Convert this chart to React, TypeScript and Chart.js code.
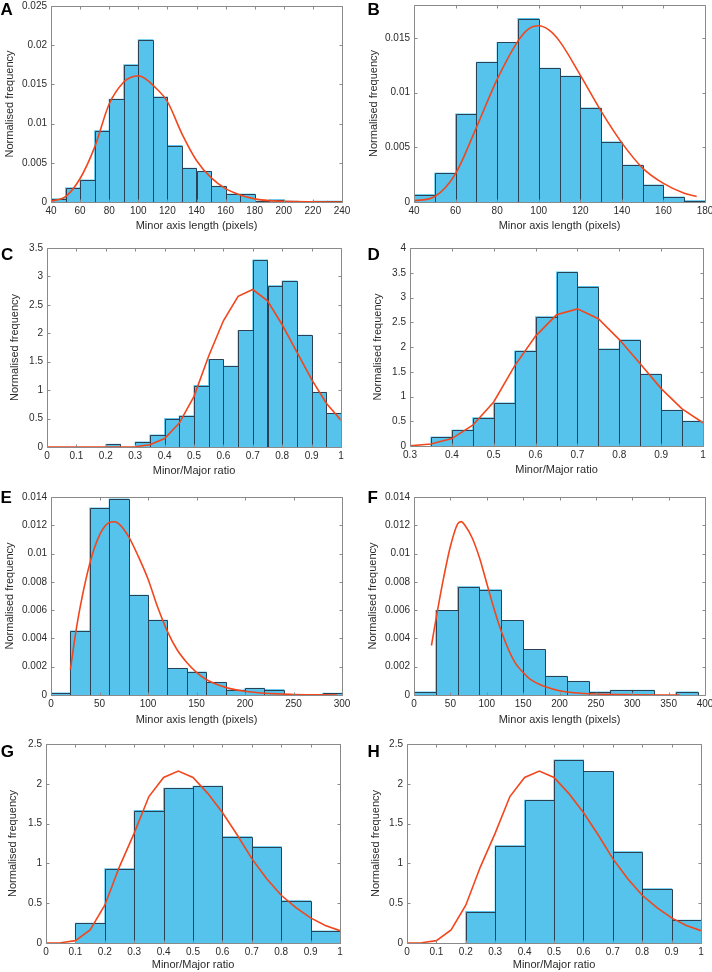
import React, { useEffect, useRef } from "react";
import { Chart, registerables } from "chart.js";

Chart.register(...registerables);

const FONT = "'Liberation Sans', Arial, Helvetica, sans-serif";
Chart.defaults.font.family = FONT;

const TEXT = "#2b2b2b";
const BOX = "#8a8a8a";
const BAR_FILL = "#55c3eb";
const BAR_EDGE = "#2a4254";
const CURVE = "#f2461d";

// ---------- Panel A ----------
const A_BIN_EDGES = [40, 50, 60, 70, 80, 90, 100, 110, 120, 130, 140, 150, 160, 170, 180, 190, 200, 210, 220, 230];
const A_FREQ = [0.0004, 0.0018, 0.0028, 0.0091, 0.0131, 0.0175, 0.0207, 0.0134, 0.0072, 0.0043, 0.0039, 0.002, 0.001, 0.001, 0.0001, 0.0003, 0.0001, 0, 0.0001, 0.0001];
const A_CURVE_X = [40, 50, 60, 70, 80, 90, 95, 100, 105, 110, 120, 130, 140, 150, 160, 170, 180, 190, 200, 220, 240];
const A_CURVE_Y = [0.0001, 0.0007, 0.003, 0.007, 0.0125, 0.0153, 0.0159, 0.0161, 0.0157, 0.0149, 0.0128, 0.0087, 0.0053, 0.0031, 0.0017, 0.0009, 0.0004, 0.00017, 0.00008, 0.00002, 0];
const A_X_TICKS = [40, 60, 80, 100, 120, 140, 160, 180, 200, 220, 240];
const A_Y_TICKS = [0, 0.005, 0.01, 0.015, 0.02, 0.025];

// ---------- Panel B ----------
const B_BIN_EDGES = [40, 50, 60, 70, 80, 90, 100, 110, 120, 130, 140, 150, 160, 170];
const B_FREQ = [0.00067, 0.00264, 0.00803, 0.01276, 0.01458, 0.01676, 0.01221, 0.01148, 0.00858, 0.00548, 0.00336, 0.00155, 0.00045, 0.00012];
const B_CURVE_X = [40, 50, 60, 70, 80, 90, 95, 100, 105, 110, 120, 130, 140, 150, 160, 170, 176];
const B_CURVE_Y = [0.0001, 0.0005, 0.0026, 0.0068, 0.0112, 0.0147, 0.0158, 0.0161, 0.0157, 0.0147, 0.0116, 0.0083, 0.0054, 0.0031, 0.0017, 0.0008, 0.0005];
const B_X_TICKS = [40, 60, 80, 100, 120, 140, 160, 180];
const B_Y_TICKS = [0, 0.005, 0.01, 0.015];

// ---------- Panel C ----------
const C_BIN_EDGES = [0, 0.05, 0.1, 0.15, 0.2, 0.25, 0.3, 0.35, 0.4, 0.45, 0.5, 0.55, 0.6, 0.65, 0.7, 0.75, 0.8, 0.85, 0.9, 0.95];
const C_FREQ = [0, 0, 0, 0, 0.047, 0, 0.088, 0.21, 0.5, 0.547, 1.08, 1.54, 1.42, 2.05, 3.29, 2.835, 2.92, 1.965, 0.96, 0.59];
const C_CURVE_X = [0, 0.05, 0.1, 0.15, 0.2, 0.25, 0.3, 0.35, 0.4, 0.45, 0.5, 0.55, 0.6, 0.65, 0.7, 0.75, 0.8, 0.85, 0.9, 0.95, 1];
const C_CURVE_Y = [0, 0, 0, 0, 0, 0.001, 0.005, 0.04, 0.15, 0.42, 0.89, 1.6, 2.22, 2.65, 2.77, 2.57, 2.15, 1.67, 1.19, 0.77, 0.47];
const C_X_TICKS = [0, 0.1, 0.2, 0.3, 0.4, 0.5, 0.6, 0.7, 0.8, 0.9, 1];
const C_Y_TICKS = [0, 0.5, 1, 1.5, 2, 2.5, 3, 3.5];

// ---------- Panel D ----------
const D_BIN_EDGES = [0.3, 0.35, 0.4, 0.45, 0.5, 0.55, 0.6, 0.65, 0.7, 0.75, 0.8, 0.85, 0.9, 0.95];
const D_FREQ = [0, 0.18, 0.32, 0.57, 0.87, 1.92, 2.61, 3.515, 3.22, 1.96, 2.14, 1.45, 0.72, 0.5];
const D_CURVE_X = [0.3, 0.35, 0.4, 0.45, 0.5, 0.55, 0.6, 0.65, 0.7, 0.75, 0.8, 0.85, 0.9, 0.95, 1];
const D_CURVE_Y = [0.005, 0.04, 0.15, 0.42, 0.89, 1.62, 2.22, 2.65, 2.77, 2.57, 2.15, 1.66, 1.16, 0.75, 0.47];
const D_X_TICKS = [0.3, 0.4, 0.5, 0.6, 0.7, 0.8, 0.9, 1];
const D_Y_TICKS = [0, 0.5, 1, 1.5, 2, 2.5, 3, 3.5, 4];

// ---------- Panel E ----------
const E_BIN_EDGES = [0, 20, 40, 60, 80, 100, 120, 140, 160, 180, 200, 220, 240, 260, 280];
const E_FREQ = [0.00014, 0.00452, 0.01322, 0.01386, 0.00706, 0.00529, 0.00188, 0.00162, 0.00089, 0.00035, 0.00047, 0.00038, 0, 0, 0.00012];
const E_CURVE_X = [20, 25, 30, 40, 50, 60, 65, 70, 80, 90, 100, 110, 120, 130, 140, 150, 160, 180, 200, 220, 250, 295];
const E_CURVE_Y = [0.0018, 0.0042, 0.0062, 0.0093, 0.0113, 0.0122, 0.01225, 0.0121, 0.0112, 0.0098, 0.0082, 0.0062, 0.0045, 0.0032, 0.0023, 0.0016, 0.0011, 0.00054, 0.00026, 0.00012, 0.00004, 0];
const E_X_TICKS = [0, 50, 100, 150, 200, 250, 300];
const E_Y_TICKS = [0, 0.002, 0.004, 0.006, 0.008, 0.01, 0.012, 0.014];

// ---------- Panel F ----------
const F_BIN_EDGES = [0, 30, 60, 90, 120, 150, 180, 210, 240, 270, 300, 330, 360];
const F_FREQ = [0.00021, 0.00598, 0.00765, 0.00744, 0.00527, 0.00322, 0.00132, 0.00096, 0.00021, 0.00033, 0.00033, 0, 0.00021];
const F_CURVE_X = [24, 30, 40, 50, 60, 65, 70, 80, 90, 100, 110, 120, 130, 140, 150, 160, 180, 200, 220, 250, 300, 365];
const F_CURVE_Y = [0.0035, 0.0053, 0.0081, 0.0105, 0.0121, 0.01226, 0.012, 0.0111, 0.0097, 0.0079, 0.0061, 0.0045, 0.0032, 0.0022, 0.0016, 0.0011, 0.0006, 0.0003, 0.00016, 0.00007, 0.00002, 0];
const F_X_TICKS = [0, 50, 100, 150, 200, 250, 300, 350, 400];
const F_Y_TICKS = [0, 0.002, 0.004, 0.006, 0.008, 0.01, 0.012, 0.014];

// ---------- Panel G ----------
const G_BIN_EDGES = [0, 0.1, 0.2, 0.3, 0.4, 0.5, 0.6, 0.7, 0.8, 0.9];
const G_FREQ = [0, 0.248, 0.933, 1.664, 1.945, 1.97, 1.336, 1.21, 0.53, 0.15];
const G_CURVE_X = [0, 0.05, 0.1, 0.15, 0.2, 0.25, 0.3, 0.35, 0.4, 0.45, 0.5, 0.55, 0.6, 0.65, 0.7, 0.75, 0.8, 0.85, 0.9, 0.95, 1];
const G_CURVE_Y = [0, 0.004, 0.03, 0.165, 0.475, 0.96, 1.38, 1.84, 2.08, 2.16, 2.08, 1.88, 1.64, 1.36, 1.06, 0.81, 0.6, 0.445, 0.315, 0.22, 0.155];
const G_X_TICKS = [0, 0.1, 0.2, 0.3, 0.4, 0.5, 0.6, 0.7, 0.8, 0.9, 1];
const G_Y_TICKS = [0, 0.5, 1, 1.5, 2, 2.5];

// ---------- Panel H ----------
const H_BIN_EDGES = [0, 0.1, 0.2, 0.3, 0.4, 0.5, 0.6, 0.7, 0.8, 0.9];
const H_FREQ = [0, 0, 0.395, 1.223, 1.794, 2.3, 2.155, 1.147, 0.68, 0.286];
const H_CURVE_X = [0, 0.05, 0.1, 0.15, 0.2, 0.25, 0.3, 0.35, 0.4, 0.45, 0.5, 0.55, 0.6, 0.65, 0.7, 0.75, 0.8, 0.85, 0.9, 0.95, 1];
const H_CURVE_Y = [0, 0.004, 0.03, 0.165, 0.475, 0.96, 1.38, 1.84, 2.08, 2.16, 2.08, 1.88, 1.64, 1.36, 1.06, 0.81, 0.6, 0.445, 0.315, 0.22, 0.155];
const H_X_TICKS = [0, 0.1, 0.2, 0.3, 0.4, 0.5, 0.6, 0.7, 0.8, 0.9, 1];
const H_Y_TICKS = [0, 0.5, 1, 1.5, 2, 2.5];

const X_TITLE_LEN = "Minor axis length (pixels)";
const X_TITLE_RATIO = "Minor/Major ratio";
const Y_TITLE = "Normalised frequency";

type Area = { l: number; r: number; t: number; b: number };
type PanelSpec = {
  letter: string;
  letterX: number;
  letterTop: number;
  col: number;
  area: Area;
  xMin: number;
  xMax: number;
  yMax: number;
  xTicks: number[];
  yTicks: number[];
  binEdges: number[];
  binWidth: number;
  freq: number[];
  curveX: number[];
  curveY: number[];
  smooth: boolean;
  xTitle: string;
  yTitleX: number;
  xTitleDy: number;
};

const PANELS: PanelSpec[] = [
  { letter: "A", letterX: 0.5, letterTop: 0.6, col: 0, area: { l: 51, r: 342, t: 6, b: 202 }, xMin: 40, xMax: 240, yMax: 0.025, xTicks: A_X_TICKS, yTicks: A_Y_TICKS, binEdges: A_BIN_EDGES, binWidth: 10, freq: A_FREQ, curveX: A_CURVE_X, curveY: A_CURVE_Y, smooth: true, xTitle: X_TITLE_LEN, yTitleX: 10, xTitleDy: 24 },
  { letter: "B", letterX: 367.5, letterTop: 0.6, col: 1, area: { l: 414, r: 705, t: 5, b: 202 }, xMin: 40, xMax: 180, yMax: 0.018, xTicks: B_X_TICKS, yTicks: B_Y_TICKS, binEdges: B_BIN_EDGES, binWidth: 10, freq: B_FREQ, curveX: B_CURVE_X, curveY: B_CURVE_Y, smooth: true, xTitle: X_TITLE_LEN, yTitleX: 373.5, xTitleDy: 24 },
  { letter: "C", letterX: 1, letterTop: 246.1, col: 0, area: { l: 47, r: 341, t: 248, b: 447 }, xMin: 0, xMax: 1, yMax: 3.5, xTicks: C_X_TICKS, yTicks: C_Y_TICKS, binEdges: C_BIN_EDGES, binWidth: 0.05, freq: C_FREQ, curveX: C_CURVE_X, curveY: C_CURVE_Y, smooth: false, xTitle: X_TITLE_RATIO, yTitleX: 14.5, xTitleDy: 23.5 },
  { letter: "D", letterX: 367.5, letterTop: 246.1, col: 1, area: { l: 410, r: 703, t: 248, b: 446 }, xMin: 0.3, xMax: 1, yMax: 4, xTicks: D_X_TICKS, yTicks: D_Y_TICKS, binEdges: D_BIN_EDGES, binWidth: 0.05, freq: D_FREQ, curveX: D_CURVE_X, curveY: D_CURVE_Y, smooth: false, xTitle: X_TITLE_RATIO, yTitleX: 378, xTitleDy: 23.5 },
  { letter: "E", letterX: 0.5, letterTop: 488.6, col: 0, area: { l: 51, r: 342, t: 497, b: 695 }, xMin: 0, xMax: 300, yMax: 0.014, xTicks: E_X_TICKS, yTicks: E_Y_TICKS, binEdges: E_BIN_EDGES, binWidth: 20, freq: E_FREQ, curveX: E_CURVE_X, curveY: E_CURVE_Y, smooth: true, xTitle: X_TITLE_LEN, yTitleX: 9.5, xTitleDy: 24.5 },
  { letter: "F", letterX: 367.5, letterTop: 488.6, col: 1, area: { l: 414, r: 705, t: 497, b: 695 }, xMin: 0, xMax: 400, yMax: 0.014, xTicks: F_X_TICKS, yTicks: F_Y_TICKS, binEdges: F_BIN_EDGES, binWidth: 30, freq: F_FREQ, curveX: F_CURVE_X, curveY: F_CURVE_Y, smooth: true, xTitle: X_TITLE_LEN, yTitleX: 373, xTitleDy: 24.5 },
  { letter: "G", letterX: 0.8, letterTop: 742.6, col: 0, area: { l: 46, r: 340, t: 744, b: 943 }, xMin: 0, xMax: 1, yMax: 2.5, xTicks: G_X_TICKS, yTicks: G_Y_TICKS, binEdges: G_BIN_EDGES, binWidth: 0.1, freq: G_FREQ, curveX: G_CURVE_X, curveY: G_CURVE_Y, smooth: false, xTitle: X_TITLE_RATIO, yTitleX: 13.3, xTitleDy: 22 },
  { letter: "H", letterX: 367.5, letterTop: 742.6, col: 1, area: { l: 407, r: 701, t: 744, b: 943 }, xMin: 0, xMax: 1, yMax: 2.5, xTicks: H_X_TICKS, yTicks: H_Y_TICKS, binEdges: H_BIN_EDGES, binWidth: 0.1, freq: H_FREQ, curveX: H_CURVE_X, curveY: H_CURVE_Y, smooth: false, xTitle: X_TITLE_RATIO, yTitleX: 376, xTitleDy: 22 },
];

const fmt = (v: number | string) => String(parseFloat(Number(v).toPrecision(6)));

// Crisp 1px outlines for the histogram bars, taken from the bar elements Chart.js laid out.
const barEdgePlugin = {
  id: "barEdges",
  afterDatasetDraw(chart: any, args: any) {
    const meta = args.meta;
    if (meta.type !== "bar") return;
    const ctx = chart.ctx;
    ctx.save();
    ctx.strokeStyle = BAR_EDGE;
    ctx.lineWidth = 1;
    ctx.beginPath();
    meta.data.forEach((el: any, i: number) => {
      const v = meta._parsed[i] ? meta._parsed[i].y : 0;
      if (!(v > 0)) return;
      const pr = el.getProps(["x", "y", "base", "width"], true);
      const l = Math.round(pr.x - pr.width / 2) + 0.5;
      const r = Math.round(pr.x + pr.width / 2) + 0.5;
      const b = Math.round(pr.base);
      const t = Math.min(Math.round(pr.y), b - 1) + 0.5;
      ctx.moveTo(l, b);
      ctx.lineTo(l, t);
      ctx.lineTo(r, t);
      ctx.lineTo(r, b);
    });
    ctx.stroke();
    ctx.restore();
  },
};

const boxPlugin = {
  id: "matlabBox",
  afterDatasetsDraw(chart: any) {
    const { ctx, chartArea: a, scales } = chart;
    const xs = scales.x;
    const ys = scales.y;
    ctx.save();
    ctx.strokeStyle = BOX;
    ctx.lineWidth = 1;
    ctx.beginPath();
    ctx.rect(a.left + 0.5, a.top + 0.5, a.right - a.left, a.bottom - a.top);
    const TL = 3;
    xs.ticks.forEach((t: any) => {
      const px = Math.round(xs.getPixelForValue(t.value)) + 0.5;
      ctx.moveTo(px, a.bottom + 0.5);
      ctx.lineTo(px, a.bottom + 0.5 - TL);
      ctx.moveTo(px, a.top + 0.5);
      ctx.lineTo(px, a.top + 0.5 + TL);
    });
    ys.ticks.forEach((t: any) => {
      const py = Math.round(ys.getPixelForValue(t.value)) + 0.5;
      ctx.moveTo(a.left + 0.5, py);
      ctx.lineTo(a.left + 0.5 + TL, py);
      ctx.moveTo(a.right + 0.5, py);
      ctx.lineTo(a.right + 0.5 - TL, py);
    });
    ctx.stroke();
    ctx.restore();
  },
};

const PT = 6;
const XH = 32;

function Panel({ p }: { p: PanelSpec }) {
  const ref = useRef<HTMLCanvasElement | null>(null);
  const canvasLeft = p.col * 356;
  const canvasWidth = 356;
  const yw = p.area.l - canvasLeft;
  const pr = canvasLeft + canvasWidth - p.area.r;
  const canvasTop = p.area.t - PT;
  const canvasHeight = p.area.b - p.area.t + PT + XH;

  useEffect(() => {
    if (!ref.current) return;
    const chart = new Chart(ref.current, {
      type: "bar",
      data: {
        datasets: [
          {
            type: "line",
            data: p.curveX.map((x, i) => ({ x, y: p.curveY[i] })),
            borderColor: CURVE,
            borderWidth: 1.6,
            pointRadius: 0,
            fill: false,
            tension: p.smooth ? 0.4 : 0,
            cubicInterpolationMode: p.smooth ? "monotone" : "default",
            order: 0,
          } as any,
          {
            type: "bar",
            data: p.binEdges.map((e, i) => ({ x: e + p.binWidth / 2, y: p.freq[i] })),
            backgroundColor: (c: any) => (c.raw && c.raw.y > 0 ? BAR_FILL : "rgba(0,0,0,0)"),
            borderWidth: 0,
            barPercentage: 1,
            categoryPercentage: 1,
            inflateAmount: (c: any) => (c.raw && c.raw.y > 0 ? 0.5 : 0),
            order: 1,
          } as any,
        ],
      },
      options: {
        animation: false,
        responsive: false,
        maintainAspectRatio: false,
        devicePixelRatio: 1,
        events: [],
        layout: { padding: { top: PT, right: pr, left: 0, bottom: 0 } },
        plugins: { legend: { display: false }, tooltip: { enabled: false } },
        scales: {
          x: {
            type: "linear",
            min: p.xMin,
            max: p.xMax,
            offset: false,
            grid: { display: false, drawTicks: false },
            border: { display: false },
            ticks: { autoSkip: false, maxRotation: 0, minRotation: 0, padding: 3.5, color: TEXT, font: { size: 10 }, callback: (v: any) => fmt(v) },
            afterBuildTicks: (s: any) => {
              s.ticks = p.xTicks.map((v) => ({ value: v }));
            },
            afterFit: (s: any) => {
              s.height = XH;
              s.paddingLeft = 0;
              s.paddingRight = 0;
            },
            title: { display: true, text: p.xTitle, color: TEXT, font: { size: 11 }, padding: { top: 0, bottom: XH - p.xTitleDy - 6.6 } },
          },
          y: {
            type: "linear",
            min: 0,
            max: p.yMax,
            grid: { display: false, drawTicks: false },
            border: { display: false },
            ticks: { autoSkip: false, padding: 4, color: TEXT, font: { size: 10 }, callback: (v: any) => fmt(v) },
            afterBuildTicks: (s: any) => {
              s.ticks = p.yTicks.map((v) => ({ value: v }));
            },
            afterFit: (s: any) => {
              s.width = yw;
              s.paddingTop = 0;
              s.paddingBottom = 0;
            },
            title: { display: true, text: Y_TITLE, color: TEXT, font: { size: 11 }, padding: { top: p.yTitleX - canvasLeft - 6.6, bottom: 0 } },
          },
        },
      } as any,
      plugins: [barEdgePlugin, boxPlugin],
    });
    return () => chart.destroy();
  }, []);

  return (
    <canvas
      ref={ref}
      width={canvasWidth}
      height={canvasHeight}
      style={{ position: "absolute", left: canvasLeft, top: canvasTop, width: canvasWidth, height: canvasHeight }}
    />
  );
}

export default function App() {
  return (
    <div style={{ position: "absolute", left: 0, top: 0, width: 712, height: 972, background: "#fff", overflow: "hidden" }}>
      {PANELS.map((p) => (
        <Panel key={p.letter} p={p} />
      ))}
      {PANELS.map((p) => (
        <div
          key={"L" + p.letter}
          style={{ position: "absolute", left: p.letterX, top: p.letterTop, fontFamily: FONT, fontWeight: "bold", fontSize: 17, lineHeight: "17px", color: "#000" }}
        >
          {p.letter}
        </div>
      ))}
    </div>
  );
}
